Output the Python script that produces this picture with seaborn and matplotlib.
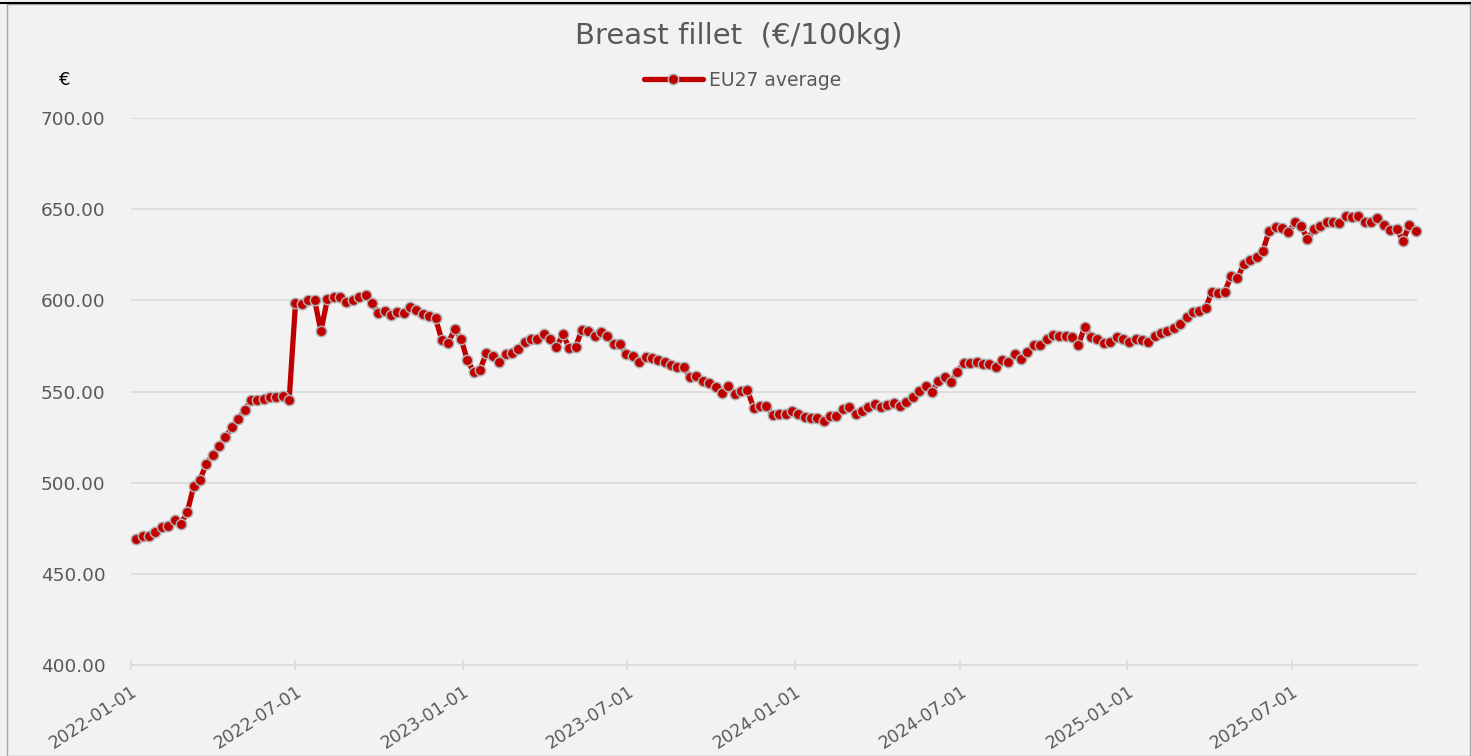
import matplotlib
matplotlib.use("Agg")
import matplotlib.pyplot as plt
from matplotlib.patches import Rectangle
from matplotlib.ticker import FuncFormatter
import seaborn as sns
import pandas as pd

# ---- data ----
start_date = "2022-01-07"
series_name = "EU27 average"
values = [
    469.4, 471.1, 471.0, 473.0, 475.6, 476.2, 479.5, 477.5, 484.0, 498.0,
    501.8, 510.4, 515.3, 520.0, 524.9, 530.7, 535.0, 539.7, 545.3, 545.3,
    545.7, 546.8, 546.8, 547.5, 545.3, 598.3, 597.8, 600.2, 600.2, 583.2,
    600.5, 601.6, 601.6, 598.9, 600.2, 601.6, 602.9, 598.7,
    593.2, 594.1, 591.9, 593.4, 593.2, 596.2, 594.7, 592.3, 591.4, 590.1,
    578.2, 576.7, 584.2, 579.1, 567.2, 560.8, 562.1, 571.2, 569.6, 566.0,
    570.4, 571.2, 573.3, 577.3, 579.1, 578.8, 581.5, 579.1, 574.2, 581.4,
    574.0, 574.6, 583.7, 583.3, 580.6, 582.5, 580.6,
    576.0, 576.0, 570.4, 569.6, 566.3, 569.1, 568.5, 567.3, 566.4, 564.5,
    563.3, 563.3, 557.8, 558.5, 555.7, 554.8, 552.3, 549.4, 553.2, 548.6,
    550.2, 550.8, 541.1, 542.0, 542.0, 537.1, 537.6, 537.5, 539.4, 537.5,
    536.1, 535.8, 535.3, 534.0, 536.5, 536.5, 540.2, 541.3,
    537.6, 539.4, 541.3, 543.1, 541.3, 542.6, 543.5, 542.0, 544.4, 547.1,
    550.4, 553.0, 549.9, 555.7, 558.1, 555.4, 560.9, 565.8, 565.8, 566.4,
    565.1, 565.1, 563.6, 567.3, 566.4, 570.4, 567.7, 571.8, 575.5, 575.5,
    579.1, 581.0, 580.6, 580.4,
    579.7, 575.5, 585.6, 580.1, 578.8, 576.4, 577.3, 580.1, 578.8, 577.0,
    579.1, 578.2, 577.0, 580.4, 582.3, 583.3, 584.6, 587.0, 591.0, 593.7,
    594.4, 596.0, 604.8, 604.2, 604.8,
    613.3, 612.1, 619.9, 622.1, 623.9, 627.2, 638.2, 640.0, 639.5, 637.3,
    642.8, 640.8, 633.6, 638.9, 640.8, 643.1, 643.1, 642.3, 646.4, 645.9,
    646.4, 642.8, 643.1, 645.3, 641.3, 638.6, 639.1, 632.7, 641.3, 638.0,
]
x_tick_labels = ["2022-01-01", "2022-07-01", "2023-01-01", "2023-07-01",
                 "2024-01-01", "2024-07-01", "2025-01-01", "2025-07-01"]
y_ticks = [400, 450, 500, 550, 600, 650, 700]

dates = pd.date_range(start_date, periods=len(values), freq="7D")
df = pd.DataFrame({"date": dates, "price": values})

# ---- style ----
sns.set_theme(style="white")
BG = "#f2f2f2"
plt.rcParams["font.family"] = ["DejaVu Sans"]

fig = plt.figure(figsize=(14.71, 7.56), dpi=100, facecolor=BG)
ax = fig.add_axes([0.089, 0.120, 0.874, 0.724])
ax.set_facecolor(BG)

sns.lineplot(data=df, x="date", y="price", ax=ax, color="#c00000",
             linewidth=3.8, marker="o", markersize=7.5,
             markerfacecolor="#c00000", markeredgecolor="#b0b0b0",
             markeredgewidth=1.1, label=series_name)
for ln in ax.get_lines():
    ln.set_clip_on(False)

ax.set_ylim(400, 700)
ax.set_yticks(y_ticks)
ax.yaxis.set_major_formatter(FuncFormatter(lambda v, p: f"{v:.2f}"))
ax.set_xlim(pd.Timestamp("2022-01-01"), dates[-1] + pd.Timedelta(days=1))
ax.set_xticks(pd.to_datetime(x_tick_labels))
ax.set_xticklabels(x_tick_labels, rotation=33, ha="right",
                   rotation_mode="anchor")

ax.grid(axis="y", color="#d9d9d9", linewidth=1.1)
ax.set_axisbelow(True)
for s in ["top", "right", "left"]:
    ax.spines[s].set_visible(False)
ax.spines["bottom"].set_color("#d9d9d9")
ax.spines["bottom"].set_linewidth(1.1)
ax.tick_params(axis="y", length=0, labelsize=13.3, labelcolor="#595959", pad=18.5)
ax.tick_params(axis="x", length=7, direction="inout", color="#d9d9d9",
               width=1.1, labelsize=12.5, labelcolor="#595959", pad=9,
               bottom=True)
ax.set_xlabel("")
ax.set_ylabel("")

fig.text(0.502, 0.953, "Breast fillet  (\u20ac/100kg)", ha="center", va="center",
         fontsize=21, color="#595959")
fig.text(0.044, 0.894, "\u20ac", ha="center", va="center", fontsize=13,
         color="black")

leg = ax.legend(loc="center", bbox_to_anchor=(0.505, 0.894),
                bbox_transform=fig.transFigure, frameon=False,
                handlelength=3.1, handletextpad=0.35,
                prop={"size": 13.5})
for t in leg.get_texts():
    t.set_color("#595959")

# figure frame
fig.patches.append(Rectangle((0.005, 0.0), 0.994, 0.995, transform=fig.transFigure,
                             fill=False, edgecolor="#a6a6a6", linewidth=1.0))
fig.lines.append(plt.Line2D([0, 1], [0.996, 0.996], transform=fig.transFigure,
                            color="black", linewidth=1.5))

fig.savefig("out.png", dpi=100, facecolor=BG)
